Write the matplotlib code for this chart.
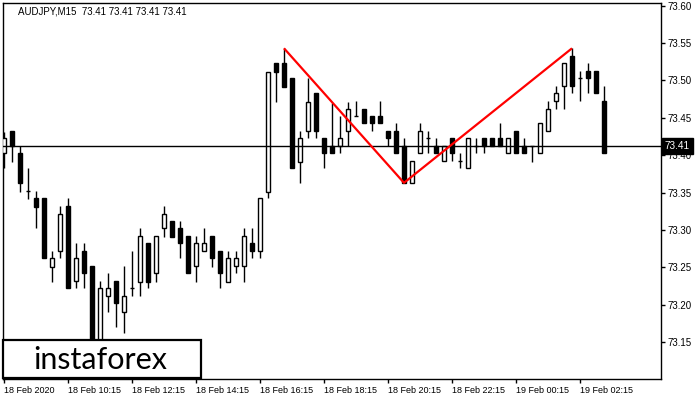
import matplotlib
matplotlib.use('Agg')
import matplotlib.pyplot as plt
from matplotlib.patches import Rectangle
import matplotlib.transforms as mtransforms

# ---- data (AUDJPY M15) ----
opens = [73.403, 73.432, 73.403, 73.352, 73.343, 73.343, 73.251, 73.272, 73.332, 73.232,
         73.272, 73.252, 73.140, 73.211, 73.232, 73.190, 73.222, 73.230, 73.282, 73.242,
         73.303, 73.312, 73.303, 73.292, 73.252, 73.272, 73.292, 73.272, 73.230, 73.252,
         73.252, 73.282, 73.272, 73.351, 73.523, 73.523, 73.503, 73.391, 73.432, 73.483,
         73.423, 73.412, 73.412, 73.432, 73.452, 73.462, 73.452, 73.452, 73.432, 73.432,
         73.412, 73.363, 73.403, 73.423, 73.412, 73.392, 73.423, 73.392, 73.383, 73.412,
         73.423, 73.423, 73.423, 73.403, 73.432, 73.412, 73.412, 73.403, 73.432, 73.472,
         73.493, 73.533, 73.503, 73.513, 73.513, 73.472]
highs = [73.431, 73.432, 73.412, 73.383, 73.352, 73.343, 73.272, 73.332, 73.343, 73.282,
         73.282, 73.252, 73.232, 73.242, 73.232, 73.252, 73.272, 73.303, 73.282, 73.292,
         73.332, 73.312, 73.312, 73.292, 73.292, 73.303, 73.292, 73.272, 73.272, 73.272,
         73.303, 73.303, 73.343, 73.511, 73.523, 73.543, 73.503, 73.432, 73.503, 73.483,
         73.423, 73.470, 73.452, 73.471, 73.472, 73.462, 73.452, 73.472, 73.432, 73.443,
         73.423, 73.392, 73.443, 73.432, 73.423, 73.412, 73.423, 73.403, 73.423, 73.423,
         73.423, 73.423, 73.443, 73.423, 73.432, 73.423, 73.412, 73.443, 73.472, 73.493,
         73.523, 73.543, 73.513, 73.523, 73.513, 73.493]
lows = [73.383, 73.391, 73.351, 73.341, 73.303, 73.262, 73.230, 73.262, 73.222, 73.222,
        73.222, 73.120, 73.120, 73.190, 73.170, 73.162, 73.211, 73.211, 73.222, 73.230,
        73.291, 73.291, 73.262, 73.242, 73.230, 73.272, 73.251, 73.222, 73.230, 73.242,
        73.230, 73.262, 73.262, 73.343, 73.471, 73.491, 73.383, 73.363, 73.423, 73.423,
        73.383, 73.403, 73.403, 73.412, 73.452, 73.443, 73.432, 73.443, 73.412, 73.403,
        73.363, 73.363, 73.403, 73.403, 73.403, 73.392, 73.392, 73.383, 73.383, 73.403,
        73.403, 73.412, 73.412, 73.403, 73.403, 73.403, 73.391, 73.403, 73.432, 73.462,
        73.462, 73.483, 73.472, 73.483, 73.483, 73.403]
closes = [73.423, 73.412, 73.363, 73.352, 73.331, 73.262, 73.262, 73.321, 73.222, 73.262,
          73.242, 73.140, 73.222, 73.222, 73.202, 73.211, 73.222, 73.292, 73.230, 73.292,
          73.321, 73.291, 73.282, 73.242, 73.282, 73.282, 73.262, 73.242, 73.262, 73.262,
          73.292, 73.272, 73.343, 73.511, 73.511, 73.491, 73.383, 73.423, 73.471, 73.432,
          73.403, 73.403, 73.423, 73.462, 73.452, 73.443, 73.443, 73.443, 73.423, 73.403,
          73.363, 73.392, 73.432, 73.423, 73.403, 73.412, 73.403, 73.392, 73.423, 73.412,
          73.412, 73.412, 73.412, 73.423, 73.403, 73.403, 73.412, 73.443, 73.462, 73.483,
          73.523, 73.493, 73.503, 73.503, 73.483, 73.403]

current_price = 73.412
pattern_idx = [35, 50, 71]          # double top: peak, trough, peak
x_tick_pos = [0, 8, 16, 24, 32, 40, 48, 56, 64, 72]
x_tick_labels = ["18 Feb 2020", "18 Feb 10:15", "18 Feb 12:15", "18 Feb 14:15",
                 "18 Feb 16:15", "18 Feb 18:15", "18 Feb 20:15", "18 Feb 22:15",
                 "19 Feb 00:15", "19 Feb 02:15"]
y_ticks = [73.15, 73.20, 73.25, 73.30, 73.35, 73.40, 73.45, 73.50, 73.55, 73.60]
title_text = "AUDJPY,M15  73.41 73.41 73.41 73.41"

plt.rcParams['font.family'] = ['Liberation Sans', 'DejaVu Sans']

fig = plt.figure(figsize=(7, 4), dpi=100)
fig.patch.set_facecolor('white')
ax = fig.add_axes([3 / 700, 21 / 400, 658 / 700, 376 / 400])
ax.set_xlim(-0.125, 82.125)
ax.set_ylim(73.1005, 73.6036)

body_w = 0.62
lw = 1.0
for i, (o, h, l, c) in enumerate(zip(opens, highs, lows, closes)):
    ax.vlines(i, l, h, color='black', linewidth=lw, zorder=2)
    if abs(c - o) < 1e-9:
        ax.hlines(o, i - body_w / 2, i + body_w / 2, color='black', linewidth=lw, zorder=3)
    else:
        fc = 'white' if c > o else 'black'
        ax.add_patch(Rectangle((i - body_w / 2, min(o, c)), body_w, abs(c - o),
                               facecolor=fc, edgecolor='black', linewidth=lw, zorder=3))

# current price line
ax.axhline(current_price, color='black', linewidth=lw, zorder=4)

# double-top pattern
px = pattern_idx
py = [highs[px[0]], lows[px[1]], highs[px[2]]]
ax.plot(px, py, color='#ff0000', linewidth=1.6, zorder=5, solid_capstyle='butt')

# axes styling
for s in ax.spines.values():
    s.set_color('black')
    s.set_linewidth(lw)
ax.yaxis.tick_right()
ax.set_yticks(y_ticks)
ax.set_yticklabels([f"{v:.2f}" for v in y_ticks])
ax.tick_params(axis='y', direction='out', length=3, width=lw, pad=2, labelsize=7, colors='black')
ax.set_xticks(x_tick_pos)
ax.set_xticklabels(x_tick_labels)
ax.tick_params(axis='x', direction='out', length=3, width=lw, pad=2, labelsize=6.5, colors='black')
for lab in ax.get_xticklabels():
    lab.set_ha('left')

# current price tag
tr = mtransforms.blended_transform_factory(ax.transAxes, ax.transData)
ax.text(1.006, current_price, f"{current_price:.2f}", transform=tr, color='white',
        fontsize=7.2, va='center', ha='left', clip_on=False, zorder=10,
        bbox=dict(boxstyle='square,pad=0.3', facecolor='black', edgecolor='black'))

# title
fig.text(18 / 700, 1 - 11 / 400, title_text, fontsize=7, va='center', ha='left', color='black')

# logo box
fig.add_artist(Rectangle((3 / 700, 22 / 400), 198 / 700, 38 / 400, transform=fig.transFigure,
                         facecolor='white', edgecolor='black', linewidth=1.6, zorder=20))
fig.text(100 / 700, 1 - 360 / 400, "instaforex", fontsize=22, family=['Lato', 'DejaVu Sans'],
         fontweight='normal', va='center', ha='center', color='black', zorder=21)

fig.savefig('out.png', dpi=100, facecolor='white')
